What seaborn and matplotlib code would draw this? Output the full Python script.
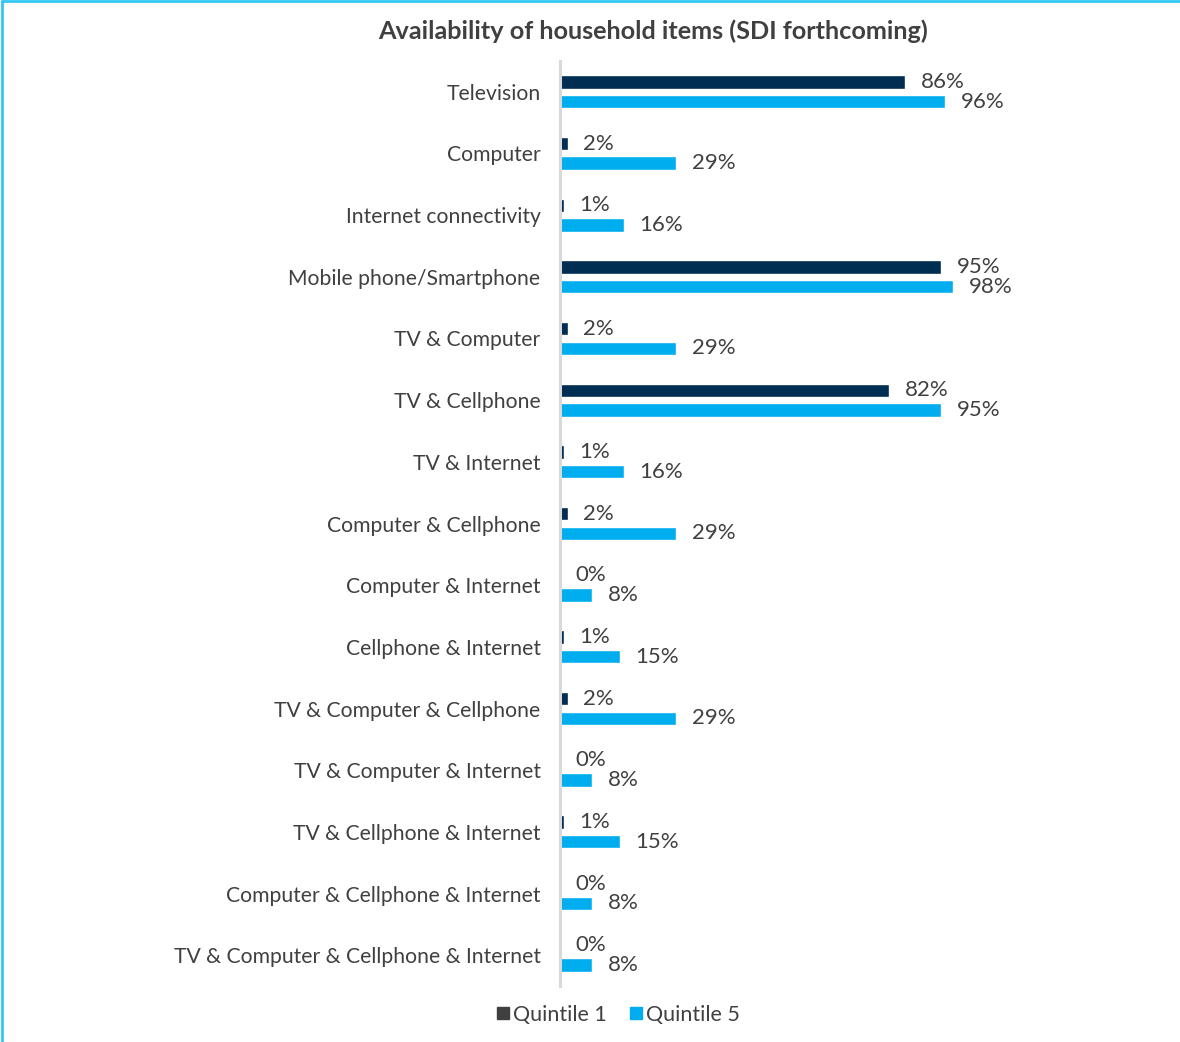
import pandas as pd
import seaborn as sns
import matplotlib.pyplot as plt
from matplotlib.lines import Line2D

# Categories and values
items = [
    'Television', 'Computer', 'Internet connectivity', 'Mobile phone/Smartphone',
    'TV & Computer', 'TV & Cellphone', 'TV & Internet', 'Computer & Cellphone',
    'Computer & Internet', 'Cellphone & Internet', 'TV & Computer & Cellphone',
    'TV & Computer & Internet', 'TV & Cellphone & Internet',
    'Computer & Cellphone & Internet', 'TV & Computer & Cellphone & Internet',
]
quintile_1 = [86, 2, 1, 95, 2, 82, 1, 2, 0, 1, 2, 0, 1, 0, 0]
quintile_5 = [96, 29, 16, 98, 29, 95, 16, 29, 8, 15, 29, 8, 15, 8, 8]
groups = ['Quintile 1', 'Quintile 5']

dark = '#002D52'
light = '#00AEEF'
text_col = '#404040'

df = pd.DataFrame({
    'item': items * 2,
    'value': quintile_1 + quintile_5,
    'group': [groups[0]] * len(items) + [groups[1]] * len(items),
})

sns.set_style('white')
plt.rcParams['font.family'] = ['Lato', 'DejaVu Sans']

fig = plt.figure(figsize=(11.8, 10.42), dpi=100)
ax = fig.add_axes([0.4746, 0.0537, 0.50, 0.8878])

sns.barplot(data=df, y='item', x='value', hue='group', hue_order=groups,
            palette=[dark, light], order=items, orient='h', width=0.633,
            gap=0.31, saturation=1, legend=False, ax=ax)

for cont in ax.containers:
    ax.bar_label(cont, labels=[f'{v:g}%' for v in cont.datavalues],
                 padding=11, fontsize=16, color=text_col)

ax.set_xlim(0, 147)
ax.set_ylim(len(items) - 0.5, -0.5)
ax.set_xlabel('')
ax.set_ylabel('')
ax.set_xticks([])
ax.tick_params(axis='y', length=0, pad=14, labelsize=15.2, labelcolor=text_col)
for s in ['top', 'right', 'bottom']:
    ax.spines[s].set_visible(False)
ax.spines['left'].set_color('#D9D9D9')
ax.spines['left'].set_linewidth(2.2)

fig.text(0.553, 0.970, 'Availability of household items (SDI forthcoming)',
         ha='center', va='center', fontsize=18.2, fontweight='bold', color=text_col)

handles = [
    Line2D([], [], marker='s', linestyle='', color='#404040', markersize=8),
    Line2D([], [], marker='s', linestyle='', color=light, markersize=8),
]
fig.legend(handles, groups, loc='center', bbox_to_anchor=(0.523, 0.026), ncol=2,
           frameon=False, fontsize=15.5, labelcolor=text_col, handletextpad=0.05,
           columnspacing=1.0, handlelength=0.8)

# light-blue frame along the top and left edges
fig.add_artist(Line2D([0.002, 1.0], [0.999, 0.999], color='#33C7F2', lw=2,
                      transform=fig.transFigure))
fig.add_artist(Line2D([0.002, 0.002], [0.0, 0.999], color='#33C7F2', lw=2,
                      transform=fig.transFigure))

fig.savefig('out.png', dpi=100)
